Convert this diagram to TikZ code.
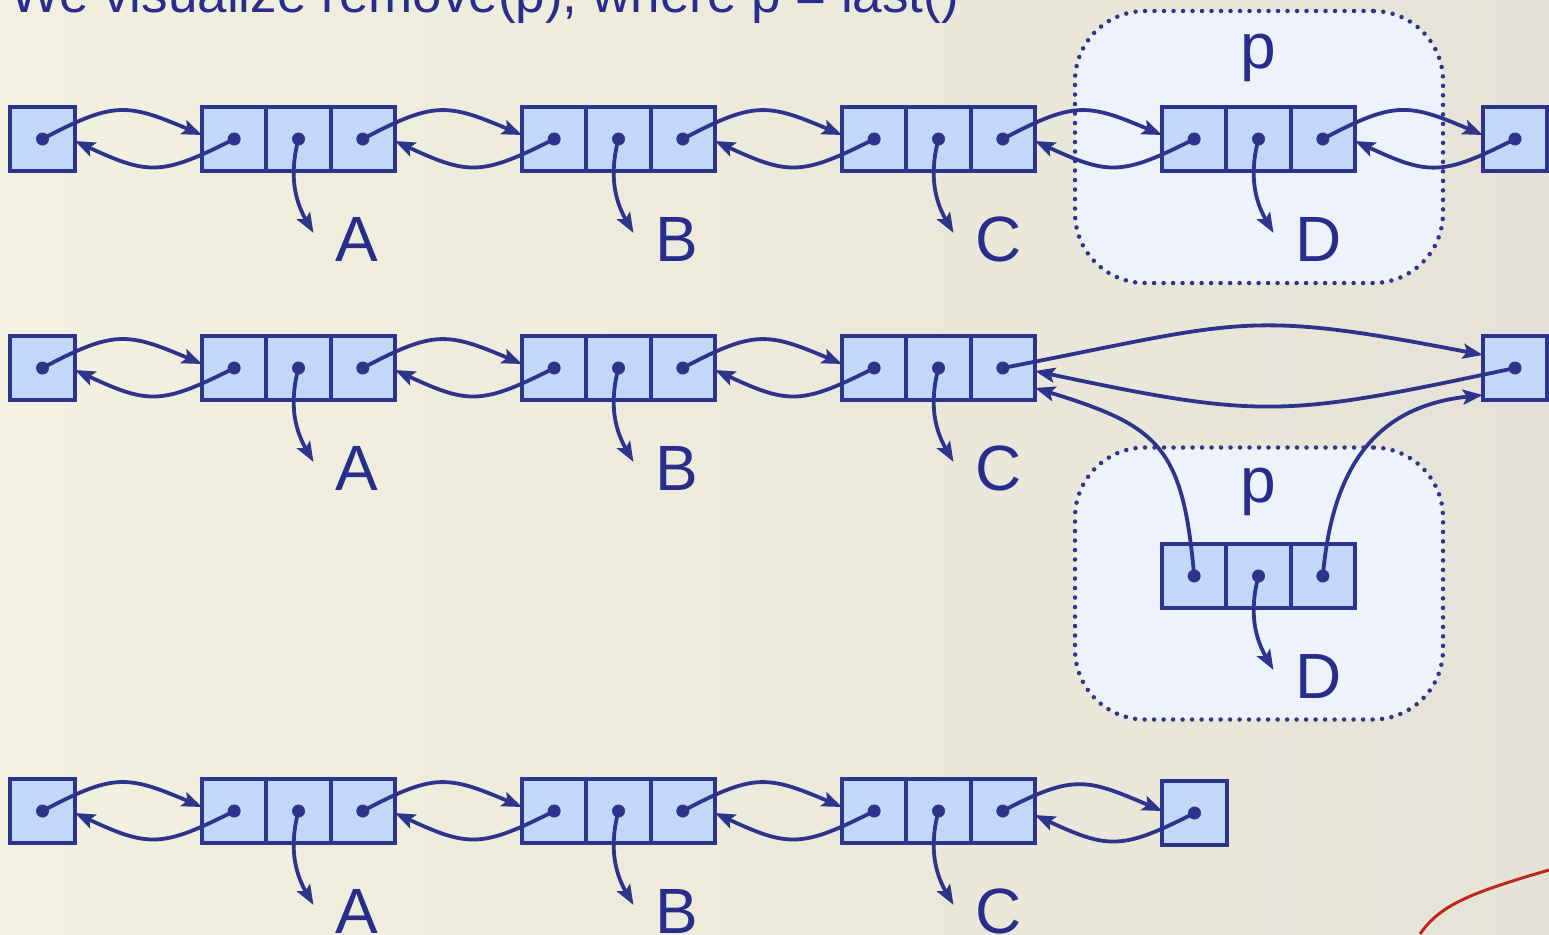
\documentclass[tikz,border=0pt]{standalone}
\usepackage{fontspec}
\setmainfont{Liberation Sans}
\usetikzlibrary{arrows.meta}
\definecolor{navy}{RGB}{46,52,140}
\definecolor{cellblue}{RGB}{194,216,248}
\definecolor{pfill}{RGB}{238,242,252}
\definecolor{txt}{RGB}{40,44,138}
\definecolor{bgA}{RGB}{242,241,224}
\definecolor{bgB}{RGB}{229,227,215}
\definecolor{redline}{RGB}{190,40,25}
\newcommand\lnode[3]{%
  \node[cell] (#1p) at (#2+32.17,-#3) {};
  \node[cell] (#1e) at (#2+96.5,-#3) {};
  \node[cell] (#1n) at (#2+160.83,-#3) {};
}
\newcommand\celldots[1]{%
  \fill[navy] (#1p.center) circle (6.5);
  \fill[navy] (#1e.center) circle (6.5);
  \fill[navy] (#1n.center) circle (6.5);
}
\begin{document}
\begin{tikzpicture}[x=1pt,y=1pt,
  cell/.style={draw=navy, fill=cellblue, line width=4pt, minimum width=64.33pt, minimum height=64pt, inner sep=0pt, outer sep=0pt},
  ptr/.style={draw=navy, line width=3.8pt, -{Stealth[length=20pt,width=15pt,inset=4pt]}},
  fwd/.style={ptr, out=28, in=157, looseness=1.3},
  bwd/.style={ptr, out=207, in=-25, looseness=1.3},
  elem/.style={ptr, out=-105, in=120},
  lbl/.style={text=txt, font=\fontsize{64}{64}\selectfont, inner sep=0pt},
  pbox/.style={draw=navy, fill=pfill, line width=4.5pt, dash pattern=on 0pt off 9.5pt, line cap=round, rounded corners=70pt, minimum width=368pt, minimum height=272pt, inner sep=0pt}
]
\useasboundingbox (0,0) rectangle (1549,-934);
\shade[left color=bgA, right color=bgB] (0,0) rectangle (1549,-934);
\draw[redline, line width=3pt] (1420,-934) .. controls (1440,-905) and (1470,-893) .. (1549,-870);

% title
\node[text=txt, font=\fontsize{53}{53}\selectfont, inner sep=0pt, anchor=base west] (title) at (10,-13) {We visualize remove(p), where p = last()};

% dotted boxes
\node[pbox] (pb1) at (1259,-147) {};
\node[pbox] (pb2) at (1259,-583.5) {};
\node[lbl, anchor=base] (p1) at (1258,-69) {p};
\node[lbl, anchor=base] (p2) at (1258,-502) {p};

% ---------- row 1 ----------
\node[cell, minimum width=65pt] (h1) at (42.5,-139) {};
\lnode{A1}{202}{139}
\lnode{B1}{522}{139}
\lnode{C1}{842}{139}
\lnode{D1}{1162}{139}
\node[cell] (t1) at (1515,-139) {};
\foreach \n/\t in {A1/A,B1/B,C1/C,D1/D}{
  \node[lbl, anchor=base west] (l\n) at ([xshift=37pt,yshift=-122pt]\n e.center) {\t};
}
\draw[fwd] (h1.center) to ([yshift=4pt]A1p.west);
\draw[bwd] (A1p.center) to ([yshift=-2pt]h1.east);
\draw[fwd] (A1n.center) to ([yshift=4pt]B1p.west);
\draw[bwd] (B1p.center) to ([yshift=-2pt]A1n.east);
\draw[fwd] (B1n.center) to ([yshift=4pt]C1p.west);
\draw[bwd] (C1p.center) to ([yshift=-2pt]B1n.east);
\draw[fwd] (C1n.center) to ([yshift=4pt]D1p.west);
\draw[bwd] (D1p.center) to ([yshift=-2pt]C1n.east);
\draw[fwd] (D1n.center) to ([yshift=4pt]t1.west);
\draw[bwd] (t1.center) to ([yshift=-2pt]D1n.east);
\draw[elem] (A1e.center) to ([xshift=-22pt,yshift=6pt]lA1.west);
\draw[elem] (B1e.center) to ([xshift=-22pt,yshift=6pt]lB1.west);
\draw[elem] (C1e.center) to ([xshift=-22pt,yshift=6pt]lC1.west);
\draw[elem] (D1e.center) to ([xshift=-22pt,yshift=6pt]lD1.west);
\fill[navy] (h1.center) circle (6.5);
\fill[navy] (t1.center) circle (6.5);
\celldots{A1}\celldots{B1}\celldots{C1}\celldots{D1}

% ---------- row 2 ----------
\node[cell, minimum width=65pt] (h2) at (42.5,-368) {};
\lnode{A2}{202}{368}
\lnode{B2}{522}{368}
\lnode{C2}{842}{368}
\lnode{D2}{1162}{576}
\node[cell] (t2) at (1515,-368) {};
\foreach \n/\t in {A2/A,B2/B,C2/C,D2/D}{
  \node[lbl, anchor=base west] (l\n) at ([xshift=37pt,yshift=-122pt]\n e.center) {\t};
}
\draw[fwd] (h2.center) to ([yshift=4pt]A2p.west);
\draw[bwd] (A2p.center) to ([yshift=-2pt]h2.east);
\draw[fwd] (A2n.center) to ([yshift=4pt]B2p.west);
\draw[bwd] (B2p.center) to ([yshift=-2pt]A2n.east);
\draw[fwd] (B2n.center) to ([yshift=4pt]C2p.west);
\draw[bwd] (C2p.center) to ([yshift=-2pt]B2n.east);
\draw[ptr] (C2n.center) to[out=11, in=169, looseness=1.3] ([yshift=13pt]t2.west);
\draw[ptr] (t2.center) to[out=192, in=-12, looseness=1.25] ([yshift=-3pt]C2n.east);
\draw[ptr] (D2p.center) to[out=95, in=-17, looseness=1.35] ([yshift=-20pt]C2n.east);
\draw[ptr] (D2n.center) to[out=85, in=186, looseness=1.15] ([yshift=-27pt]t2.west);
\draw[elem] (A2e.center) to ([xshift=-22pt,yshift=6pt]lA2.west);
\draw[elem] (B2e.center) to ([xshift=-22pt,yshift=6pt]lB2.west);
\draw[elem] (C2e.center) to ([xshift=-22pt,yshift=6pt]lC2.west);
\draw[elem] (D2e.center) to ([xshift=-22pt,yshift=6pt]lD2.west);
\fill[navy] (h2.center) circle (6.5);
\fill[navy] (t2.center) circle (6.5);
\celldots{A2}\celldots{B2}\celldots{C2}\celldots{D2}

% ---------- row 3 ----------
\node[cell, minimum width=65pt] (h3) at (42.5,-811) {};
\lnode{A3}{202}{811}
\lnode{B3}{522}{811}
\lnode{C3}{842}{811}
\node[cell] (t3) at (1194.5,-813) {};
\foreach \n/\t in {A3/A,B3/B,C3/C}{
  \node[lbl, anchor=base west] (l\n) at ([xshift=37pt,yshift=-122pt]\n e.center) {\t};
}
\draw[fwd] (h3.center) to ([yshift=4pt]A3p.west);
\draw[bwd] (A3p.center) to ([yshift=-2pt]h3.east);
\draw[fwd] (A3n.center) to ([yshift=4pt]B3p.west);
\draw[bwd] (B3p.center) to ([yshift=-2pt]A3n.east);
\draw[fwd] (B3n.center) to ([yshift=4pt]C3p.west);
\draw[bwd] (C3p.center) to ([yshift=-2pt]B3n.east);
\draw[fwd] (C3n.center) to ([yshift=2pt]t3.west);
\draw[bwd] (t3.center) to ([yshift=-4pt]C3n.east);
\draw[elem] (A3e.center) to ([xshift=-22pt,yshift=6pt]lA3.west);
\draw[elem] (B3e.center) to ([xshift=-22pt,yshift=6pt]lB3.west);
\draw[elem] (C3e.center) to ([xshift=-22pt,yshift=6pt]lC3.west);
\fill[navy] (h3.center) circle (6.5);
\fill[navy] (t3.center) circle (6.5);
\celldots{A3}\celldots{B3}\celldots{C3}
\end{tikzpicture}
\end{document}
